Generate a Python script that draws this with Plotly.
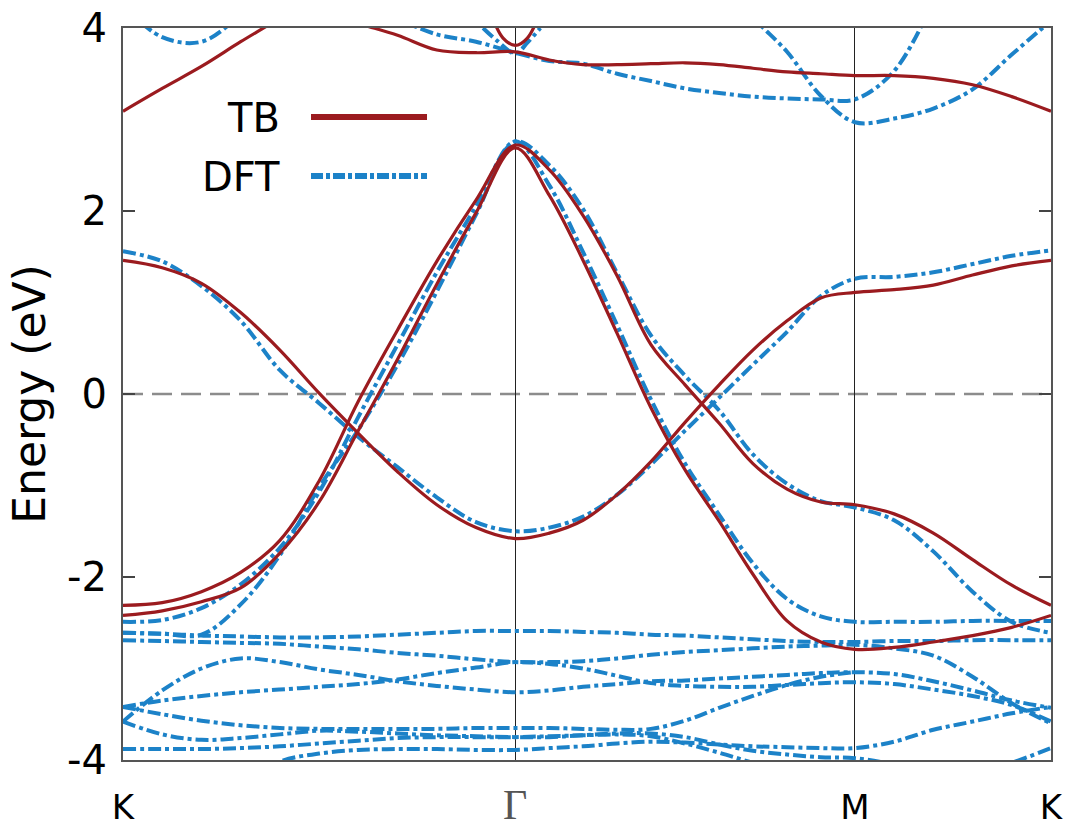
import plotly.graph_objects as go

# ---------------- data ----------------
# k-path coordinate: K=0, Gamma=1, M=1.866, K=2.366
K_PATH = [0.0, 0.1, 0.2, 0.3, 0.4, 0.5, 0.6, 0.7, 0.8, 0.9, 1.0,
          1.087, 1.173, 1.26, 1.346, 1.433, 1.52, 1.606, 1.693, 1.779, 1.866,
          1.966, 2.066, 2.166, 2.266, 2.366]
K_TICKS = [0.0, 1.0, 1.866, 2.366]
K_LABELS = ["K", "Γ", "M", "K"]
E_TICKS = [-4, -2, 0, 2, 4]
E_LABELS = ["-4", "-2", "0", "2", "4"]

# tight-binding bands (eV)
tb1 = [1.46, 1.38, 1.21, 0.89, 0.48, 0.01, -0.43, -0.85, -1.21, -1.46, -1.58,
       -1.52, -1.38, -1.10, -0.74, -0.31, 0.10, 0.48, 0.80, 1.05, 1.11,
       1.14, 1.19, 1.30, 1.40, 1.46]
tb2 = [-2.42, -2.37, -2.27, -2.12, -1.74, -1.18, -0.40, 0.38, 1.20, 1.98, 2.69,
       2.17, 1.46, 0.66, -0.15, -0.83, -1.39, -1.97, -2.48, -2.71, -2.79,
       -2.77, -2.71, -2.64, -2.55, -2.42]
tb3 = [-2.31, -2.28, -2.16, -1.95, -1.60, -0.95, -0.08, 0.70, 1.45, 2.12, 2.72,
       2.45, 1.95, 1.29, 0.54, 0.10, -0.32, -0.76, -1.04, -1.18, -1.21,
       -1.31, -1.52, -1.81, -2.09, -2.31]
tb4 = [3.09, 3.34, 3.58, 3.85, 4.11, 4.40]                      # K_PATH[0:6]
tb5 = [4.19, 4.05, 3.92, 3.76, 3.73, 3.74,                        # K_PATH[5:]
       3.65, 3.60, 3.60, 3.61, 3.62, 3.60, 3.56, 3.52, 3.50, 3.48,
       3.48, 3.45, 3.38, 3.25, 3.09]
TB6_K = [0.936, 0.969, 1.0, 1.031, 1.064]
tb6 = [4.18, 3.89, 3.81, 3.89, 4.18]

# DFT bands (eV)
d1 = [1.56, 1.45, 1.18, 0.80, 0.26, -0.10, -0.47, -0.80, -1.13, -1.40, -1.50,
      -1.46, -1.34, -1.10, -0.77, -0.40, -0.04, 0.32, 0.68, 1.07, 1.26,
      1.28, 1.33, 1.42, 1.51, 1.57]
d2 = [-2.49, -2.47, -2.34, -2.08, -1.68, -1.07, -0.25, 0.54, 1.33, 2.05, 2.76,
      2.28, 1.55, 0.75, -0.06, -0.76, -1.32, -1.85, -2.24, -2.43, -2.49,
      -2.49, -2.49, -2.48, -2.48, -2.48]
d3 = [-2.61, -2.62, -2.63, -2.30, -1.76, -1.02, -0.39, 0.32, 1.12, 1.96, 2.76,
      2.50, 2.02, 1.32, 0.64, 0.20, -0.18, -0.66, -0.98, -1.17, -1.24,
      -1.38, -1.72, -2.16, -2.49, -2.61]
du1 = [4.10, 3.93, 3.85, 3.73, 3.64, 3.61, 3.50, 3.42, 3.34, 3.29, 3.25,
       3.23, 3.22, 3.22, 3.53, 4.30]                              # K_PATH[7:23]
du2a = [4.25, 3.90, 3.85, 4.15, 4.60]                             # K_PATH[0:5]
du2b = [4.60, 4.12, 3.74, 3.26, 2.97, 3.01, 3.12, 3.33, 3.71, 4.08]  # K_PATH[16:]
DV_K = [0.918, 0.954, 1.0, 1.031, 1.064]
dv = [4.00, 3.86, 3.72, 3.84, 4.00]

b1 = [-2.61, -2.62, -2.64, -2.65, -2.66, -2.66, -2.65, -2.63, -2.61, -2.59, -2.59,
      -2.59, -2.60, -2.61, -2.63, -2.64, -2.66, -2.68, -2.70, -2.71, -2.71,
      -2.70, -2.70, -2.69, -2.69, -2.69]
b2 = [-2.69, -2.70, -2.71, -2.72, -2.73, -2.76, -2.79, -2.83, -2.86, -2.90, -2.93,
      -2.93, -2.92, -2.89, -2.85, -2.82, -2.80, -2.78, -2.76, -2.75, -2.74,
      -2.78, -2.86, -3.09, -3.38, -3.60]
b3 = [-3.42, -3.35, -3.30, -3.26, -3.23, -3.20, -3.17, -3.12, -3.05, -2.99, -2.93,
      -2.95, -3.00, -3.08, -3.16, -3.19, -3.20, -3.20, -3.18, -3.16, -3.15,
      -3.17, -3.23, -3.30, -3.40, -3.58]
b4 = [-3.58, -3.24, -3.00, -2.89, -2.93, -3.01, -3.07, -3.14, -3.19, -3.23, -3.26,
      -3.24, -3.20, -3.17, -3.14, -3.13, -3.11, -3.09, -3.07, -3.05, -3.04,
      -3.06, -3.14, -3.24, -3.35, -3.43]
b5 = [-3.42, -3.50, -3.57, -3.62, -3.65, -3.66, -3.66, -3.66, -3.66, -3.65, -3.65,
      -3.65, -3.66, -3.67, -3.66, -3.57, -3.43, -3.30, -3.18, -3.09, -3.04]  # K_PATH[0:21]
b6 = [-3.58, -3.72, -3.78, -3.76, -3.72, -3.68, -3.69, -3.71, -3.73, -3.74, -3.75,
      -3.75, -3.73, -3.71, -3.71, -3.75, -3.83, -3.90, -3.94, -3.97, -3.98,
      -4.05, -4.15, -4.15, -4.03, -3.87]
b7 = [-3.88, -3.88, -3.88, -3.87, -3.85, -3.82, -3.79, -3.76, -3.75, -3.75, -3.75,
      -3.74, -3.73, -3.72, -3.74, -3.82, -3.92, -4.03, -4.12]     # K_PATH[0:19]
b8 = [-4.30, -4.02, -3.93, -3.89, -3.88, -3.88, -3.89, -3.89,     # K_PATH[3:]
      -3.87, -3.85, -3.82, -3.80, -3.81, -3.83, -3.85, -3.86, -3.87, -3.87,
      -3.80, -3.67, -3.58, -3.49, -3.42]

# ---------------- style ----------------
RED = "#9b1b1f"
BLUE = "#1c82c8"
DFT_DASH = "13px,4px,4px,4px"
FONT = "DejaVu Sans"

fig = go.Figure()


def band(k, e, color, width, dash="solid"):
    fig.add_trace(go.Scatter(
        x=k, y=e, mode="lines", showlegend=False, hoverinfo="skip",
        line=dict(color=color, width=width, dash=dash, shape="spline", smoothing=1.0)))


dft_sets = [
    (K_PATH, d1), (K_PATH, d2), (K_PATH, d3),
    (K_PATH[7:23], du1), (K_PATH[0:5], du2a), (K_PATH[16:], du2b), (DV_K, dv),
    (K_PATH, b1), (K_PATH, b2), (K_PATH, b3), (K_PATH, b4), (K_PATH[0:21], b5),
    (K_PATH, b6), (K_PATH[0:19], b7), (K_PATH[3:], b8),
]
for k, e in dft_sets:
    band(k, e, BLUE, 4, DFT_DASH)

tb_sets = [
    (K_PATH, tb1), (K_PATH, tb2), (K_PATH, tb3),
    (K_PATH[0:6], tb4), (K_PATH[5:], tb5), (TB6_K, tb6),
]
for k, e in tb_sets:
    band(k, e, RED, 3.2)

# Fermi level
fig.add_hline(y=0, line=dict(color="#8c8c8c", width=2.5, dash="20px,9px"), layer="below")

# manual legend (text left of sample)
fig.add_annotation(xref="paper", yref="paper", x=0.1715, y=0.877, text="TB",
                   showarrow=False, xanchor="right", yanchor="middle",
                   font=dict(family=FONT, size=40, color="black"))
fig.add_annotation(xref="paper", yref="paper", x=0.1715, y=0.797, text="DFT",
                   showarrow=False, xanchor="right", yanchor="middle",
                   font=dict(family=FONT, size=40, color="black"))
fig.add_shape(type="line", xref="paper", yref="paper", x0=0.2026, x1=0.3276,
              y0=0.8784, y1=0.8784, line=dict(color=RED, width=6))
fig.add_shape(type="line", xref="paper", yref="paper", x0=0.2026, x1=0.3276,
              y0=0.7978, y1=0.7978, line=dict(color=BLUE, width=6, dash="12px,3px,4px,3px"))

tick_text = [lbl if lbl != "Γ" else
             "<span style='font-family:Liberation Serif;font-size:42px;color:#555555'>Γ</span>"
             for lbl in K_LABELS]

fig.update_layout(
    width=1068, height=828,
    margin=dict(l=123, r=17, t=28, b=68, autoexpand=False),
    paper_bgcolor="white", plot_bgcolor="white",
    font=dict(family=FONT, color="black"),
    xaxis=dict(range=[K_TICKS[0], K_TICKS[-1]], tickvals=K_TICKS, ticktext=tick_text,
               showgrid=True, gridcolor="#222222", gridwidth=1.2,
               showline=True, mirror=True, linecolor="#555555", linewidth=2,
               ticks="", zeroline=False, tickfont=dict(size=34, family=FONT),
               ticklabelstandoff=16, automargin=False),
    yaxis=dict(range=[-4, 4.0001], tickvals=E_TICKS, ticktext=E_LABELS,
               showgrid=False, zeroline=False,
               showline=True, mirror="ticks", linecolor="#555555", linewidth=2,
               ticks="inside", ticklen=12, tickwidth=1.5, tickcolor="#444444",
               tickfont=dict(size=40, family=FONT), ticklabelstandoff=6,
               ticklabeloverflow="allow", automargin=False,
               title=dict(text="Energy (eV)", font=dict(size=44, family=FONT), standoff=8)),
)

fig.write_html("out.html")
